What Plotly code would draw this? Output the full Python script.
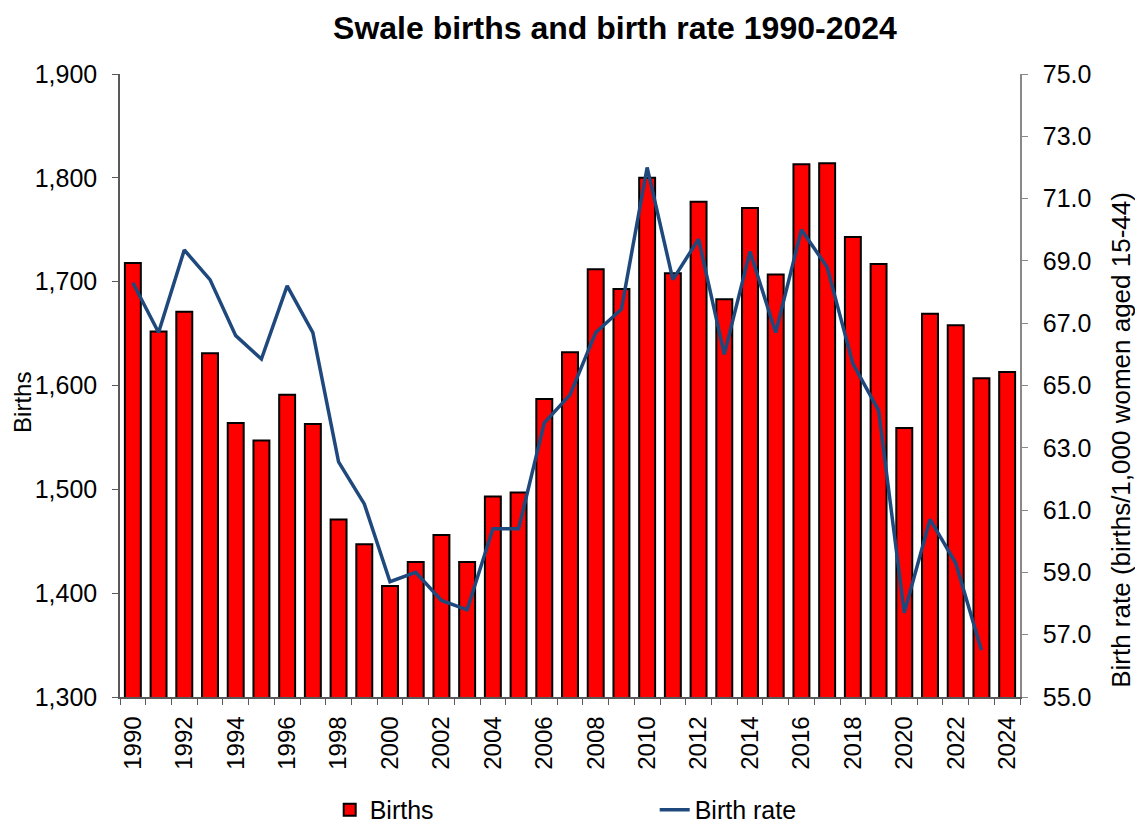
import plotly.graph_objects as go

years = list(range(1990, 2025))
births = [1718, 1652, 1671, 1631, 1564, 1547, 1591, 1563, 1471, 1447,
          1407, 1430, 1456, 1430, 1493, 1497, 1587, 1632, 1712, 1693,
          1800, 1708, 1777, 1683, 1771, 1707, 1813, 1814, 1743, 1717,
          1559, 1669, 1658, 1607, 1613]
birth_rate = [68.3, 66.7, 69.35, 68.4, 66.6, 65.85, 68.2, 66.7, 62.55, 61.2,
              58.7, 59.0, 58.1, 57.8, 60.4, 60.4, 63.8, 64.7, 66.7, 67.45,
              72.0, 68.4, 69.7, 66.0, 69.3, 66.7, 70.0, 68.8, 65.7, 64.2,
              57.7, 60.7, 59.3, 56.5, None]
x_labels = [str(y) for y in years[::2]]

fig = go.Figure()
fig.add_trace(go.Bar(
    x=years, y=births, name="Births",
    marker=dict(color="#FF0000", line=dict(color="#000000", width=2)),
    width=0.62,
))
fig.add_trace(go.Scatter(
    x=years, y=birth_rate, name="Birth rate", yaxis="y2", mode="lines",
    line=dict(color="#1F497D", width=3.5),
))

font = "Arial, Liberation Sans, sans-serif"
fig.update_layout(
    width=1143, height=825,
    margin=dict(l=112, r=131, t=66, b=136),
    paper_bgcolor="white", plot_bgcolor="white",
    font=dict(family=font, color="#000000", size=24),
    title=dict(text="<b>Swale births and birth rate 1990-2024</b>",
               x=0.531, xanchor="center", y=0.976, yanchor="middle",
               font=dict(size=32, family=font)),
    bargap=0.38,
    showlegend=True,
    legend=dict(orientation="h", x=0.233, xanchor="left",
                yref="container", y=0.028, yanchor="middle",
                entrywidth=280, entrywidthmode="pixels",
                font=dict(size=25), traceorder="normal"),
    xaxis=dict(
        range=[1989.5, 2024.5], automargin=False,
        tickmode="array", tickvals=years[::2], ticktext=x_labels,
        tickangle=-90, tickfont=dict(size=24), ticklabelstandoff=8,
        ticks="", showline=True, linecolor="#595959", linewidth=1.5,
        showgrid=False, zeroline=False,
        minor=dict(tickmode="array", tickvals=[y - 0.5 for y in years] + [2024.5],
                   ticks="outside", ticklen=6, tickcolor="#595959", showgrid=False),
    ),
    yaxis=dict(
        range=[1300, 1900], dtick=100, tickformat=",", automargin=False,
        ticks="outside", ticklen=6, tickcolor="#595959", ticklabelstandoff=10,
        showline=True, linecolor="#595959", linewidth=1.5,
        showgrid=False, zeroline=False,
        tickfont=dict(size=25),
    ),
    yaxis2=dict(
        range=[55, 75], tick0=55, dtick=2, tickformat=".1f", overlaying="y", side="right",
        automargin=False, ticklabelstandoff=10,
        ticks="outside", ticklen=6, tickcolor="#898989",
        showline=True, linecolor="#898989", linewidth=1.5,
        showgrid=False, zeroline=False,
        tickfont=dict(size=25),
    ),
    annotations=[
        dict(text="Births", xref="paper", yref="paper", x=-0.109, y=0.4735,
             xanchor="center", yanchor="middle", textangle=-90, showarrow=False,
             font=dict(size=24)),
        dict(text="Birth rate (births/1,000 women aged 15-44)", xref="paper", yref="paper",
             x=1.112, y=0.4125, xanchor="center", yanchor="middle", textangle=-90,
             showarrow=False, font=dict(size=26)),
    ],
)

fig.write_html("out.html")
